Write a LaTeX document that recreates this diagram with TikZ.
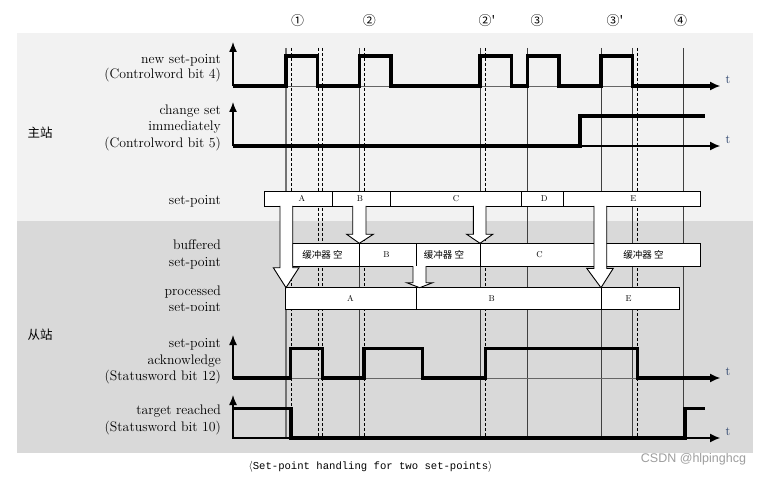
\documentclass[tikz,border=0pt]{standalone}
\usepackage{fontspec}
\usetikzlibrary{arrows.meta}
\newfontfamily\cjk{Noto Sans CJK SC}
\newfontfamily\monof{Liberation Mono}
\newfontfamily\sansf{Liberation Sans}
\definecolor{bgA}{HTML}{F2F2F2}
\definecolor{bgB}{HTML}{D9D9D9}
\definecolor{tblue}{HTML}{1F3864}
\newcommand\barrow[8]{%
  \fill[white] (#1,#3) -- (#1,#4) -- (#5,#4) -- (#7,#8) -- (#6,#4) -- (#2,#4) -- (#2,#3) -- cycle;
  \draw[line width=0.9pt,line join=miter] (#1,#3) -- (#1,#4) -- (#5,#4) -- (#7,#8) -- (#6,#4) -- (#2,#4) -- (#2,#3);}
\begin{document}
\begin{tikzpicture}[x=1pt,y=-1pt,
  lbl/.style={anchor=base east,inner sep=0pt,font=\fontsize{13.8}{15}\selectfont},
  vsolid/.style={black!75,line width=0.8pt},
  vdash/.style={black,line width=0.8pt,dash pattern=on 3pt off 2pt},
  axis/.style={black,line width=1.1pt,-{Latex[length=10pt,width=9pt]}},
  vaxis/.style={black,line width=1.3pt,-{Latex[length=10pt,width=8pt]}},
  sig/.style={black,line width=3.5pt,line join=miter},
  cell/.style={draw=black,line width=0.9pt,fill=white},
  clbl/.style={font=\fontsize{8.5}{9}\selectfont,inner sep=0pt},
  cjklbl/.style={font=\cjk\fontsize{9.5}{10}\selectfont,inner sep=0pt},
  num/.style={font=\cjk\fontsize{13}{14}\selectfont,inner sep=0pt},
  tlbl/.style={font=\fontsize{12.5}{13}\selectfont,text=tblue,inner sep=0pt}]
\useasboundingbox (0,0) rectangle (765,478);
\fill[white] (0,0) rectangle (765,478);
\fill[bgA] (17,33) rectangle (753,221);
\fill[bgB] (17,221) rectangle (753,453);

% circled numbers
\node[num] (n1) at (297.7,20.5) {①};
\node[num] (n2) at (369.3,20.5) {②};
\node[num] (n2p) at (487,20.5) {②'};
\node[num] (n3) at (537,20.5) {③};
\node[num] (n3p) at (615,20.5) {③'};
\node[num] (n4) at (680.7,20.5) {④};

% vertical time lines
\draw[black!55,line width=1.6pt] (286,48) -- (286,438);
\foreach \x in {359.3,480,527.3,601,632.7,683.3} \draw[vsolid] (\x,48) -- (\x,438);
\foreach \x in {291,318,322.3,364.7,485.3,637.7} \draw[vdash] (\x,48) -- (\x,438);

% left labels
\node[lbl] (l1a) at (221,63.5) {new set-point};
\node[lbl] (l1b) at (221,78.5) {(Controlword bit 4)};
\node[lbl] (l2a) at (221,114.5) {change set};
\node[lbl] (l2b) at (221,131) {immediately};
\node[lbl] (l2c) at (221,147.5) {(Controlword bit 5)};
\node[lbl] (l3) at (221,204.5) {set-point};
\node[lbl] (l4a) at (221,250) {buffered};
\node[lbl] (l4b) at (221,266) {set-point};
\begin{scope}
\clip (0,0) rectangle (765,310);
\node[lbl] (l5a) at (221,295) {processed};
\node[lbl] (l5b) at (221,311.5) {set-point};
\end{scope}
\node[lbl] (l6a) at (221,347.5) {set-point};
\node[lbl] (l6b) at (221,364) {acknowledge};
\node[lbl] (l6c) at (221,380.5) {(Statusword bit 12)};
\node[lbl] (l7a) at (221,414.5) {target reached};
\node[lbl] (l7b) at (221,431) {(Statusword bit 10)};
\node[font=\cjk\fontsize{12.5}{13}\selectfont,inner sep=0pt] (m) at (40,133) {主站};
\node[font=\cjk\fontsize{12.5}{13}\selectfont,inner sep=0pt] (s) at (40,335) {从站};

% signal 1
\draw[black!60,line width=0.8pt] (233,86) -- (712,86);
\draw[vaxis] (233,86.5) -- (233,42);
\draw[sig] (233,86) -- (286,86) -- (286,56) -- (317.3,56) -- (317.3,86) -- (359.3,86) -- (359.3,56) -- (391,56) -- (391,86) -- (480,86) -- (480,56) -- (511.7,56) -- (511.7,86) -- (527.3,86) -- (527.3,56) -- (559,56) -- (559,86) -- (601,86) -- (601,56) -- (632.7,56) -- (632.7,86) -- (712,86);
\draw[axis] (700,86) -- (720,86);
\node[tlbl] (t1) at (728,80) {t};

% signal 2
\draw[vaxis] (233,146.5) -- (233,102);
\draw[axis] (233,146) -- (720,146);
\draw[sig] (233,146) -- (580,146) -- (580,116) -- (705,116);
\node[tlbl] (t2) at (728,140) {t};

% signal 3
\draw[black!60,line width=0.8pt] (233,378) -- (712,378);
\draw[vaxis] (233,378.5) -- (233,335);
\draw[sig] (233,378) -- (290.7,378) -- (290.7,348.3) -- (322.7,348.3) -- (322.7,378) -- (364,378) -- (364,348.3) -- (422.3,348.3) -- (422.3,378) -- (485.7,378) -- (485.7,348.3) -- (637.7,348.3) -- (637.7,378) -- (712,378);
\draw[axis] (700,378) -- (720,378);
\node[tlbl] (t3) at (728,372) {t};

% signal 4
\draw[vaxis] (233,438.5) -- (233,395);
\draw[axis] (233,438) -- (720,438);
\draw[sig] (233,408.3) -- (291,408.3) -- (291,438) -- (685,438) -- (685,408.3) -- (705,408.3);
\node[tlbl] (t4) at (728,432) {t};

% set-point row
\draw[cell] (264.3,191) rectangle (332.7,206);
\draw[cell] (332.7,191) rectangle (390.7,206);
\draw[cell] (390.7,191) rectangle (521.7,206);
\draw[cell] (521.7,191) rectangle (563.3,206);
\draw[cell] (563.3,191) rectangle (700.7,206);
\node[clbl] (sA) at (302,198.5) {A};
\node[clbl] (sB) at (360,198.5) {B};
\node[clbl] (sC) at (456,198.5) {C};
\node[clbl] (sD) at (544.3,198.5) {D};
\node[clbl] (sE) at (633.3,198.5) {E};

% buffered row
\draw[cell] (292.7,243.3) rectangle (359.3,266);
\draw[cell] (359.3,243.3) rectangle (416.7,266);
\draw[cell] (416.7,243.3) rectangle (480,266);
\draw[cell] (480,243.3) rectangle (601,266);
\draw[cell] (601,243.3) rectangle (700.7,266);
\node[cjklbl] (b1) at (322.5,254.7) {缓冲器 空};
\node[clbl] (b2) at (386.5,254.7) {B};
\node[cjklbl] (b3) at (444,254.7) {缓冲器 空};
\node[clbl] (b4) at (539.5,254.7) {C};
\node[cjklbl] (b5) at (643.5,254.7) {缓冲器 空};

% processed row
\draw[cell] (285.7,287.7) rectangle (416.7,309);
\draw[cell] (416.7,287.7) rectangle (601,309);
\draw[cell] (601,287.7) rectangle (679.3,309);
\node[clbl] (p1) at (350.5,298.3) {A};
\node[clbl] (p2) at (491.7,298.3) {B};
\node[clbl] (p3) at (628.5,298.3) {E};

% block arrows
\barrow{280}{292.7}{206}{267.7}{273.3}{299}{286}{287.7}
\barrow{352.7}{366}{206}{234.3}{346.7}{373.3}{359.3}{243.3}
\barrow{473.3}{486}{206}{234.3}{466.7}{492.7}{480}{243.3}
\barrow{413}{426}{266}{282.7}{406.7}{432.7}{419.7}{287.7}
\barrow{594}{606.7}{206}{268.3}{586.7}{613.3}{601}{287.7}

% caption and watermark
\node[font=\monof\fontsize{10.6}{11}\selectfont,inner sep=0pt] (cap) at (370.5,467) {$\langle$Set-point handling for two set-points$\rangle$};
\node[font=\sansf\fontsize{12.5}{13}\selectfont,text=black!38,inner sep=0pt] (wm) at (693.5,459.5) {CSDN @hlpinghcg};
\end{tikzpicture}
\end{document}
